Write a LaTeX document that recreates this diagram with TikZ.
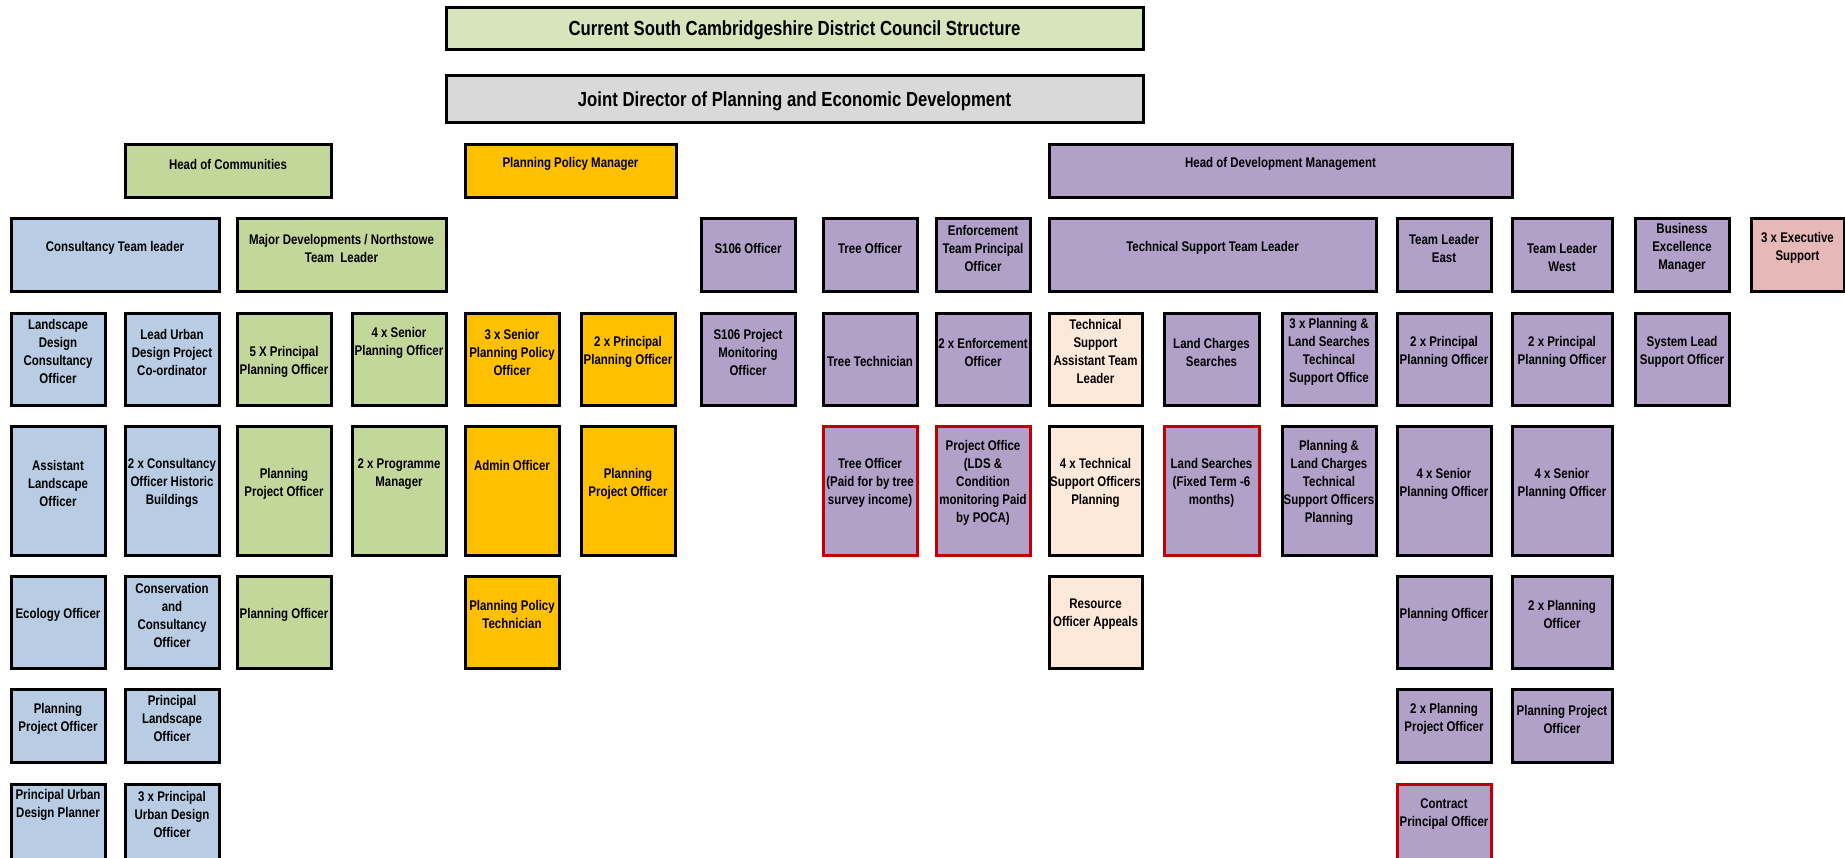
\documentclass[tikz,border=0pt]{standalone}
\usepackage{fontspec}
\setmainfont{Liberation Sans}[FakeStretch=0.82]
\definecolor{cblue}{HTML}{B8CCE4}
\definecolor{cgreen}{HTML}{C4D79B}
\definecolor{ctitle}{HTML}{D8E4BC}
\definecolor{cgray}{HTML}{D9D9D9}
\definecolor{corange}{HTML}{FFC000}
\definecolor{cpurple}{HTML}{B1A0C7}
\definecolor{cpeach}{HTML}{FDE9D9}
\definecolor{cpink}{HTML}{E6B8B7}
\definecolor{cred}{HTML}{C00000}
\tikzset{
  boxbase/.style={draw=black, line width=3pt, inner sep=0pt, outer sep=0pt, rectangle},
  bluebox/.style={boxbase, fill=cblue},
  greenbox/.style={boxbase, fill=cgreen},
  titlebox/.style={boxbase, fill=ctitle},
  graybox/.style={boxbase, fill=cgray},
  orangebox/.style={boxbase, fill=corange},
  purplebox/.style={boxbase, fill=cpurple},
  peachbox/.style={boxbase, fill=cpeach},
  pinkbox/.style={boxbase, fill=cpink},
  redpurplebox/.style={boxbase, draw=cred, fill=cpurple},
  txt/.style={inner sep=0pt, align=center, text=black, font=\bfseries\fontsize{14}{18}\selectfont},
  bigtxt/.style={inner sep=0pt, align=center, text=black, font=\bfseries\fontsize{20.4}{24}\selectfont}
}
\newcommand\orgbox[8]{%
  \node[#2, minimum width={#5-#3}, minimum height={#6-#4}] (#1) at ({(#3+#5)/2},{-(#4+#6)/2}) {};%
  \node[txt] (#1t) at ({(#3+#5)/2},{-#7-2}) {#8};}
\begin{document}
\begin{tikzpicture}[x=1pt,y=1pt]
\clip (0,0) rectangle (1845,-857);
\fill[white] (0,0) rectangle (1845,-857);
% title rows
\node[titlebox, minimum width=697, minimum height=42] (title) at (794.5,-28) {};
\node[bigtxt] (titlet) at (794.5,-30.5) {Current South Cambridgeshire District Council Structure};
\node[graybox, minimum width=697, minimum height=47] (jd) at (794.5,-98.5) {};
\node[bigtxt] (jdt) at (794.5,-101.5) {Joint Director of Planning and Economic Development};
% heads
\orgbox{hoc}{greenbox}{125}{144}{331}{197}{162}{Head of Communities}
\orgbox{ppm}{orangebox}{465}{144}{676}{197}{162}{Planning Policy Manager}
\orgbox{hdm}{purplebox}{1049}{144}{1512}{197}{162}{Head of Development Management}
% row 2
\orgbox{ctl}{bluebox}{11}{218}{219}{291}{246}{Consultancy Team leader}
\orgbox{mdn}{greenbox}{237}{218}{446}{291}{246}{Major Developments / Northstowe\\Team\ \ Leader}
\orgbox{sone}{purplebox}{701}{218}{795}{291}{246}{S106 Officer}
\orgbox{tro}{purplebox}{823}{218}{917}{291}{246}{Tree Officer}
\orgbox{etp}{purplebox}{936}{218}{1030}{291}{246}{Enforcement\\Team Principal\\Officer}
\orgbox{tstl}{purplebox}{1049}{218}{1376}{291}{246}{Technical Support Team Leader}
\orgbox{tle}{purplebox}{1397}{218}{1491}{291}{246}{Team Leader\\East}
\orgbox{tlw}{purplebox}{1512}{218}{1612}{291}{255}{Team Leader\\West}
\orgbox{bem}{purplebox}{1635}{218}{1729}{291}{246}{Business\\Excellence\\Manager}
\orgbox{exs}{pinkbox}{1751}{218}{1844}{291}{246}{3 x Executive\\Support}
% row 3
\orgbox{ldc}{bluebox}{11}{313}{105}{405}{349.5}{Landscape\\Design\\Consultancy\\Officer}
\orgbox{lud}{bluebox}{125}{313}{219}{405}{350.5}{Lead Urban\\Design Project\\Co-ordinator}
\orgbox{fpp}{greenbox}{237}{313}{331}{405}{359.5}{5 X Principal\\Planning Officer}
\orgbox{fsp}{greenbox}{352}{313}{446}{405}{341}{4 x Senior\\Planning Officer}
\orgbox{tspp}{orangebox}{465}{313}{559}{405}{350.5}{3 x Senior\\Planning Policy\\Officer}
\orgbox{tppo}{orangebox}{581}{313}{675}{405}{350}{2 x Principal\\Planning Officer}
\orgbox{spm}{purplebox}{701}{313}{795}{405}{350.5}{S106 Project\\Monitoring\\Officer}
\orgbox{trt}{purplebox}{823}{313}{917}{405}{359}{Tree Technician}
\orgbox{teo}{purplebox}{936}{313}{1030}{405}{350}{2 x Enforcement\\Officer}
\orgbox{tsat}{peachbox}{1049}{313}{1142}{405}{349.5}{Technical\\Support\\Assistant Team\\Leader}
\orgbox{lcs}{purplebox}{1164}{313}{1259}{405}{350}{Land Charges\\Searches}
\orgbox{tpls}{purplebox}{1282}{313}{1376}{405}{349.5}{3 x Planning \&\\Land Searches\\Techincal\\Support Office}
\orgbox{ppe}{purplebox}{1397}{313}{1491}{405}{350}{2 x Principal\\Planning Officer}
\orgbox{ppw}{purplebox}{1512}{313}{1612}{405}{350}{2 x Principal\\Planning Officer}
\orgbox{sls}{purplebox}{1635}{313}{1729}{405}{350}{System Lead\\Support Officer}
% row 4
\orgbox{alo}{bluebox}{11}{426}{105}{555}{481}{Assistant\\Landscape\\Officer}
\orgbox{coh}{bluebox}{125}{426}{219}{555}{481}{2 x Consultancy\\Officer Historic\\Buildings}
\orgbox{ppog}{greenbox}{237}{426}{331}{555}{482}{Planning\\Project Officer}
\orgbox{tpm}{greenbox}{352}{426}{446}{555}{472.5}{2 x Programme\\Manager}
\orgbox{ado}{orangebox}{465}{426}{559}{555}{463.6}{Admin Officer}
\orgbox{ppoo}{orangebox}{581}{426}{675}{555}{482}{Planning\\Project Officer}
\orgbox{tops}{redpurplebox}{823}{426}{917}{555}{481}{Tree Officer\\(Paid for by tree\\survey income)}
\orgbox{pol}{redpurplebox}{936}{426}{1030}{555}{481}{Project Office\\(LDS \&\\Condition\\monitoring Paid\\by POCA)}
\orgbox{ftso}{peachbox}{1049}{426}{1142}{555}{481}{4 x Technical\\Support Officers\\Planning}
\orgbox{lsft}{redpurplebox}{1164}{426}{1259}{555}{481}{Land Searches\\(Fixed Term -6\\months)}
\orgbox{plct}{purplebox}{1282}{426}{1376}{555}{481}{Planning \&\\Land Charges\\Technical\\Support Officers\\Planning}
\orgbox{fspe}{purplebox}{1397}{426}{1491}{555}{482}{4 x Senior\\Planning Officer}
\orgbox{fspw}{purplebox}{1512}{426}{1612}{555}{482}{4 x Senior\\Planning Officer}
% row 5
\orgbox{eco}{bluebox}{11}{576}{105}{668}{613}{Ecology Officer}
\orgbox{cco}{bluebox}{125}{576}{219}{668}{613}{Conservation\\and\\Consultancy\\Officer}
\orgbox{pog}{greenbox}{237}{576}{331}{668}{613}{Planning Officer}
\orgbox{ppt}{orangebox}{465}{576}{559}{668}{612.5}{Planning Policy\\Technician}
\orgbox{roa}{peachbox}{1049}{576}{1142}{668}{612.5}{Resource\\Officer Appeals}
\orgbox{poe}{purplebox}{1397}{576}{1491}{668}{613}{Planning Officer}
\orgbox{tpow}{purplebox}{1512}{576}{1612}{668}{612.5}{2 x Planning\\Officer}
% row 6
\orgbox{ppob}{bluebox}{11}{689}{105}{762}{717}{Planning\\Project Officer}
\orgbox{plo}{bluebox}{125}{689}{219}{762}{716.6}{Principal\\Landscape\\Officer}
\orgbox{tppe}{purplebox}{1397}{689}{1491}{762}{717}{2 x Planning\\Project Officer}
\orgbox{ppow}{purplebox}{1512}{689}{1612}{762}{717}{Planning Project\\Officer}
% row 7
\orgbox{pudp}{bluebox}{11}{784}{105}{900}{803}{Principal Urban\\Design Planner}
\orgbox{tpud}{bluebox}{125}{784}{219}{900}{812}{3 x Principal\\Urban Design\\Officer}
\orgbox{cpo}{redpurplebox}{1397}{784}{1491}{900}{812.5}{Contract\\Principal Officer}
\end{tikzpicture}
\end{document}
